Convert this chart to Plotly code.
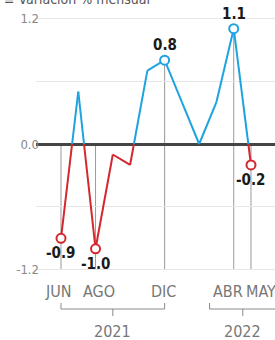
import plotly.graph_objects as go

# ---- data ----
months = ["JUN", "JUL", "AGO", "SEP", "OCT", "NOV", "DIC", "ENE", "FEB", "MAR", "ABR", "MAY"]
values = [-0.9, 0.5, -1.0, -0.1, -0.2, 0.7, 0.8, 0.4, 0.0, 0.4, 1.1, -0.2]
labeled_months = ["JUN", "AGO", "DIC", "ABR", "MAY"]
label_texts = ["-0.9", "-1.0", "0.8", "1.1", "-0.2"]
years = ["2021", "2022"]
year_spans = [("JUN", "DIC"), ("FEB", "MAY")]
ytick_vals = [-1.2, -0.6, 0.0, 0.6, 1.2]
ytick_text = ["-1.2", "", "0.0", "", "1.2"]
title_text = "≡ Variación % mensual"

BLUE = "#1fa3e0"
RED = "#d2282e"
FONT = "Liberation Sans Narrow, DejaVu Sans Condensed, DejaVu Sans, sans-serif"
MONTH_XSHIFT = {"JUN": -2, "AGO": 3, "DIC": -1, "ABR": -6, "MAY": 10}


def font(size, color, weight="normal"):
    return dict(family=FONT, size=size, color=color, weight=weight)


xs = list(range(len(months)))
idx = {m: i for i, m in enumerate(months)}

# split line into positive (blue) and negative (red) pieces
bx, by, rx, ry = [], [], [], []
for i in range(len(values) - 1):
    x0, y0, x1, y1 = xs[i], values[i], xs[i + 1], values[i + 1]
    if y0 >= 0 and y1 >= 0:
        bx += [x0, x1, None]; by += [y0, y1, None]
    elif y0 <= 0 and y1 <= 0:
        rx += [x0, x1, None]; ry += [y0, y1, None]
    else:
        xc = x0 + (0 - y0) / (y1 - y0) * (x1 - x0)
        if y0 > 0:
            bx += [x0, xc, None]; by += [y0, 0, None]
            rx += [xc, x1, None]; ry += [0, y1, None]
        else:
            rx += [x0, xc, None]; ry += [y0, 0, None]
            bx += [xc, x1, None]; by += [0, y1, None]

fig = go.Figure()

# vertical guide lines at labeled months
shapes = []
for m in labeled_months:
    v = values[idx[m]]
    shapes.append(dict(type="line", xref="x", yref="y", x0=idx[m], x1=idx[m],
                       y0=max(v, 0), y1=-1.2, line=dict(color="#9a9a9a", width=1), layer="below"))

fig.add_trace(go.Scatter(x=bx, y=by, mode="lines", line=dict(color=BLUE, width=2),
                         hoverinfo="skip", showlegend=False, cliponaxis=False))
fig.add_trace(go.Scatter(x=rx, y=ry, mode="lines", line=dict(color=RED, width=2),
                         hoverinfo="skip", showlegend=False, cliponaxis=False))

mx = [idx[m] for m in labeled_months]
my = [values[idx[m]] for m in labeled_months]
mc = [BLUE if v >= 0 else RED for v in my]
fig.add_trace(go.Scatter(x=mx, y=my, mode="markers",
                         marker=dict(size=9, color="white", line=dict(color=mc, width=2)),
                         hoverinfo="skip", showlegend=False, cliponaxis=False))

annotations = []
for m, t in zip(labeled_months, label_texts):
    v = values[idx[m]]
    annotations.append(dict(x=idx[m], y=v, xref="x", yref="y", text="<b>%s</b>" % t,
                            showarrow=False, yshift=15 if v >= 0 else -15,
                            font=font(15, "#1a1a1a", "bold")))

# month labels
for m in labeled_months:
    annotations.append(dict(x=idx[m], y=0, xref="x", yref="paper", text=m, showarrow=False,
                            yanchor="middle", yshift=-16, xshift=MONTH_XSHIFT[m],
                            font=font(16, "#777777")))

# year brackets
for yr, (a, b) in zip(years, year_spans):
    xa = idx[a] if a != "FEB" else idx[a] + 0.6
    xb = idx[b] if b != "MAY" else idx[b] + 1.45
    xm = (xa + xb) / 2
    common = dict(xref="x", yref="paper", ysizemode="pixel", yanchor=0,
                  line=dict(color="#8a8a8a", width=1))
    shapes.append(dict(type="line", x0=xa, x1=xb, y0=-34, y1=-34, **common))
    shapes.append(dict(type="line", x0=xa, x1=xa, y0=-34, y1=-28, **common))
    shapes.append(dict(type="line", x0=xb, x1=xb, y0=-34, y1=-28, **common))
    shapes.append(dict(type="line", x0=xm, x1=xm, y0=-34, y1=-41, **common))
    annotations.append(dict(x=xm, y=0, xref="x", yref="paper", text=yr, showarrow=False,
                            yanchor="middle", yshift=-56,
                            font=font(16, "#777777")))

annotations.append(dict(x=0, y=1, xref="paper", yref="paper", text=title_text,
                        showarrow=False, xanchor="left", yanchor="middle", yshift=14, xshift=-34,
                        font=font(14, "#555555")))

fig.update_layout(
    width=275, height=340,
    margin=dict(l=36, r=0, t=13, b=65),
    paper_bgcolor="white", plot_bgcolor="white",
    shapes=shapes, annotations=annotations,
    xaxis=dict(range=[-1.447, 12.39], showgrid=False, zeroline=False, showticklabels=False,
               ticks="", showline=False, fixedrange=True),
    yaxis=dict(range=[-1.25, 1.25], tickvals=ytick_vals, ticktext=ytick_text,
               showgrid=True, gridcolor="#e6e6e6", gridwidth=1,
               zeroline=True, zerolinecolor="#444444", zerolinewidth=2.5,
               ticks="", showline=False, ticklabelstandoff=-4,
               tickfont=font(13, "#888888"), fixedrange=True),
)

post = (
    "document.body.style.margin='0';document.body.style.overflow='hidden';"
    "var s=document.createElement('style');"
    "s.textContent='svg text{font-stretch:condensed !important;}';"
    "document.head.appendChild(s);"
)
fig.write_html("out.html", post_script=post, config={"displayModeBar": False})
